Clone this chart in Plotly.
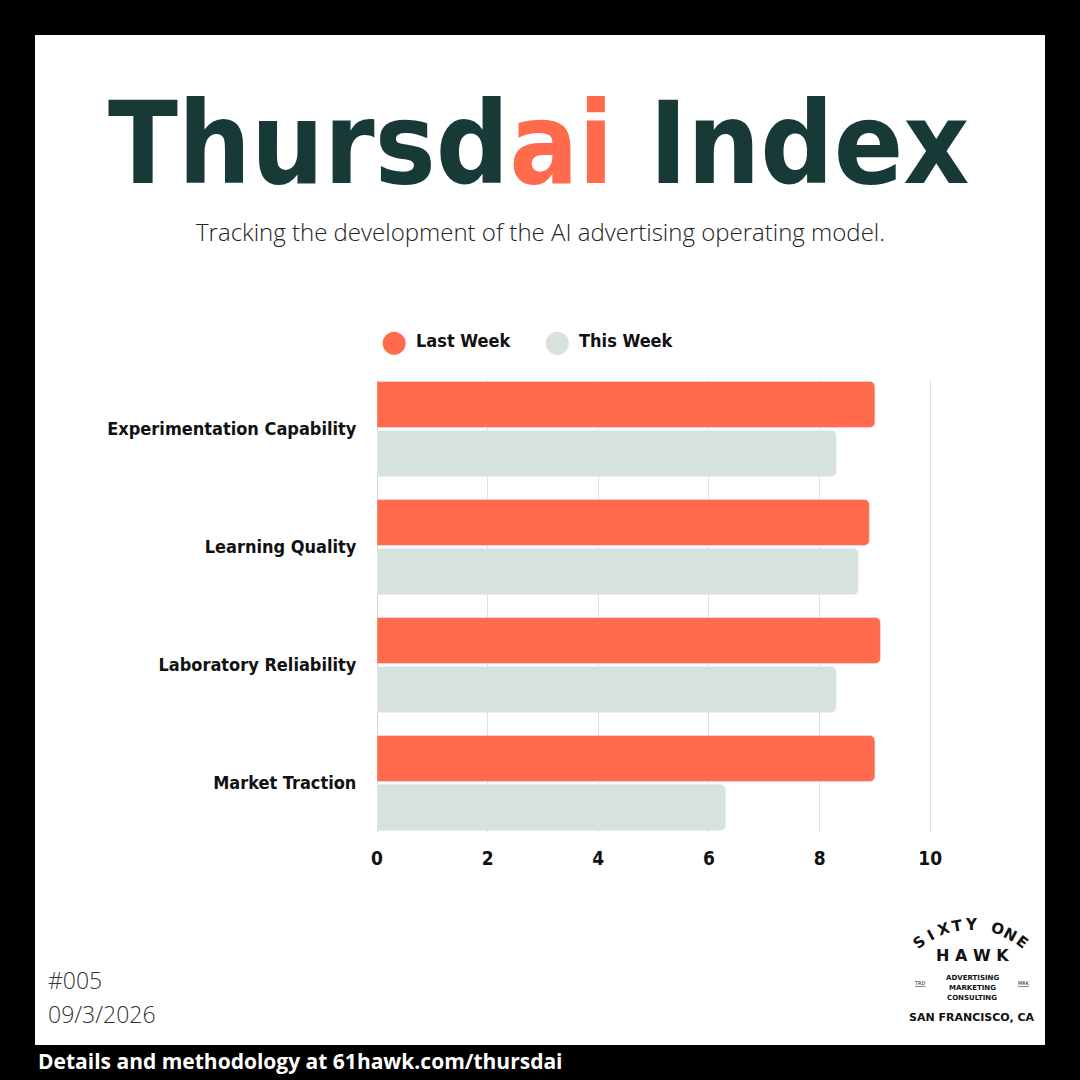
import math
import plotly.graph_objects as go

categories = ["Experimentation Capability", "Learning Quality", "Laboratory Reliability", "Market Traction"]
last_week = [9.0, 8.9, 9.1, 9.0]
this_week = [8.3, 8.7, 8.3, 6.3]
series_names = ["Last Week", "This Week"]
x_ticks = [0, 2, 4, 6, 8, 10]

ORANGE = "#FF6B4C"
GRAY = "#D8E2DC"
GREEN = "#173A36"
COND = "DejaVu Sans Condensed, DejaVu Sans"

W, H = 1080, 1080
L, R, T, B = 377, 147, 380, 248
PW, PH = W - L - R, H - T - B
BARGAP = 0.17
XMAX = 10.05


def px(x):
    return (x - L) / PW


def py(y):
    return (H - B - y) / PH


def cfont(size, color="#111"):
    return dict(size=size, color=color, family=COND, weight="bold")


fig = go.Figure()
fig.add_trace(go.Bar(y=categories, x=last_week, orientation="h", name=series_names[0],
                     marker=dict(color=ORANGE), showlegend=False, hoverinfo="x+y"))
fig.add_trace(go.Bar(y=categories, x=this_week, orientation="h", name=series_names[1],
                     marker=dict(color=GRAY), showlegend=False, hoverinfo="x+y"))

annotations = []
# legend (circle markers + labels)
for i, (name, col) in enumerate(zip(series_names, [ORANGE, GRAY])):
    cx = 394 + i * 163
    annotations.append(dict(x=px(cx), y=py(341), xref="paper", yref="paper", text="●",
                            showarrow=False, font=dict(size=30, color=col, family="DejaVu Sans"),
                            xanchor="center", yanchor="middle"))
    annotations.append(dict(x=px(cx + 20), y=py(341), xref="paper", yref="paper", text=name,
                            showarrow=False, font=cfont(18),
                            xanchor="left", yanchor="middle"))

# title
annotations.append(dict(x=px(538), y=py(143), xref="paper", yref="paper",
                        text="Thursd<span style='color:%s'>ai</span> Index" % ORANGE,
                        showarrow=False, font=cfont(114, GREEN),
                        xanchor="center", yanchor="middle"))
annotations.append(dict(x=px(540), y=py(231), xref="paper", yref="paper",
                        text="Tracking the development of the AI advertising operating model.",
                        showarrow=False, font=dict(size=24, color="#222", family="Open Sans", weight=300),
                        xanchor="center", yanchor="middle"))
# issue / date
annotations.append(dict(x=px(46), y=py(980), xref="paper", yref="paper", text="#005",
                        showarrow=False, font=dict(size=23, color="#333", family="Open Sans", weight=300),
                        xanchor="left", yanchor="middle"))
annotations.append(dict(x=px(46), y=py(1014), xref="paper", yref="paper", text="09/3/2026",
                        showarrow=False, font=dict(size=23, color="#333", family="Open Sans", weight=300),
                        xanchor="left", yanchor="middle"))
# footer
annotations.append(dict(x=px(36), y=py(1061), xref="paper", yref="paper",
                        text="<b>Details and methodology at 61hawk.com/thursdai</b>",
                        showarrow=False, font=dict(size=21, color="white", family="Open Sans"),
                        xanchor="left", yanchor="middle"))

# logo: arc text
arc_text = "SIXTY ONE"
cx0, cy0, rad = 971, 1010, 85
angles = [-127 + i * (74 / (len(arc_text) - 1)) for i in range(len(arc_text))]
for ch, a in zip(arc_text, angles):
    if ch == " ":
        continue
    ar = math.radians(a)
    lx = cx0 + rad * math.cos(ar)
    ly = cy0 + rad * math.sin(ar)
    annotations.append(dict(x=px(lx), y=py(ly), xref="paper", yref="paper", text="<b>%s</b>" % ch,
                            showarrow=False, textangle=a + 90,
                            font=dict(size=15, color="#111", family="DejaVu Sans"),
                            xanchor="center", yanchor="middle"))
annotations.append(dict(x=px(972), y=py(955), xref="paper", yref="paper", text="<b>H A W K</b>",
                        showarrow=False, font=dict(size=16, color="#111", family="DejaVu Sans"),
                        xanchor="center", yanchor="middle"))
for j, w in enumerate(["ADVERTISING", "MARKETING", "CONSULTING"]):
    annotations.append(dict(x=px(972), y=py(978 + j * 10), xref="paper", yref="paper", text="<b>%s</b>" % w,
                            showarrow=False, font=dict(size=7, color="#111", family="DejaVu Sans"),
                            xanchor="center", yanchor="middle"))
annotations.append(dict(x=px(920), y=py(983), xref="paper", yref="paper", text="<u>TRD</u>",
                        showarrow=False, font=dict(size=5, color="#111", family="DejaVu Sans"),
                        xanchor="center", yanchor="middle"))
annotations.append(dict(x=px(1024), y=py(983), xref="paper", yref="paper", text="<u>MRK</u>",
                        showarrow=False, font=dict(size=5, color="#111", family="DejaVu Sans"),
                        xanchor="center", yanchor="middle"))
annotations.append(dict(x=px(972), y=py(1018), xref="paper", yref="paper", text="<b>SAN FRANCISCO, CA</b>",
                        showarrow=False, font=dict(size=11, color="#111", family="DejaVu Sans"),
                        xanchor="center", yanchor="middle"))

shapes = [dict(type="rect", xref="paper", yref="paper", x0=px(35), x1=px(1045), y0=py(1045), y1=py(35),
               fillcolor="white", line=dict(width=0), layer="below")]

half = (1 - BARGAP) / 2
fig.update_layout(
    width=W, height=H,
    margin=dict(l=L, r=R, t=T, b=B),
    paper_bgcolor="black", plot_bgcolor="white",
    barmode="group", bargap=BARGAP, bargroupgap=0.06, barcornerradius=5,
    showlegend=False,
    annotations=annotations, shapes=shapes,
    xaxis=dict(range=[0, XMAX], tickvals=x_ticks, showgrid=True, gridcolor="#E0E0E0", gridwidth=1,
               zeroline=True, zerolinecolor="#D0D0D0", zerolinewidth=1, showline=False,
               tickfont=cfont(19), ticks="outside", ticklen=9, tickcolor="rgba(0,0,0,0)", fixedrange=True),
    yaxis=dict(range=[len(categories) - 1 + half, -half], showgrid=False, zeroline=False, showline=False,
               ticks="outside", ticklen=16, tickcolor="rgba(0,0,0,0)", fixedrange=True,
               tickfont=cfont(18)),
)

fig.write_html("out.html", config={"displayModeBar": False},
               post_script="document.body.style.margin='0';document.body.style.overflow='hidden';")
